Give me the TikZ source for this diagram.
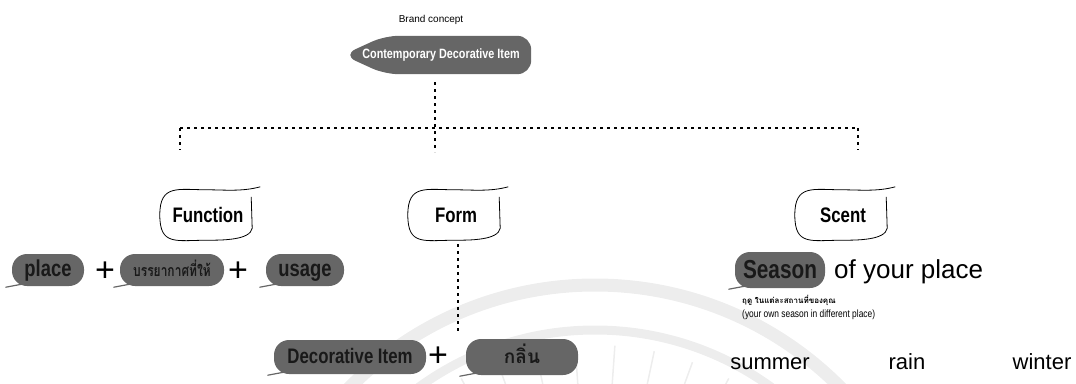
\documentclass[tikz,border=0pt]{standalone}
\usepackage{fontspec}
\setmainfont{Liberation Sans}
\newfontfamily\narrowf[FakeStretch=0.8]{Liberation Sans}
\newfontfamily\thaif[Script=Thai]{Loma}
\newfontfamily\thain[Script=Thai,FakeStretch=0.75]{Loma}
\usetikzlibrary{shapes.geometric,backgrounds}
\definecolor{blobgray}{gray}{0.40}
\definecolor{wmgray}{gray}{0.93}
\newcommand\bubbleline[1]{%
  \draw[line width=0.8pt]
    ([xshift=-5pt,yshift=-7pt]#1.north east) -- ([xshift=-4pt,yshift=12pt]#1.south east)
    .. controls ([xshift=-6pt]#1.south east) and ([xshift=14pt]#1.south) .. (#1.south)
    .. controls ([xshift=-32pt]#1.south) and ([yshift=-6pt]#1.south west) .. (#1.west)
    .. controls ([yshift=6pt]#1.north west) and ([xshift=-30pt]#1.north) .. (#1.north)
    .. controls ([xshift=16pt]#1.north) and ([xshift=-14pt,yshift=-2pt]#1.north east) .. ([xshift=4pt,yshift=3pt]#1.north east);}
\newcommand\blobtail[1]{%
  \draw[blobgray, line width=1.2pt, line cap=round]
    ([xshift=10pt,yshift=2pt]#1.south west) .. controls ([xshift=2pt,yshift=0pt]#1.south west) .. ([xshift=-6pt,yshift=-1pt]#1.south west);}
\begin{document}
\begin{tikzpicture}[x=1pt,y=-1pt,
  bubble/.style={minimum width=96pt, minimum height=50pt, inner sep=0pt,
    font=\narrowf\bfseries\fontsize{21}{21}\selectfont},
  blob/.style={fill=blobgray, rounded corners=15pt, minimum height=32pt, inner sep=2pt,
    text height=15pt, text depth=3pt,
    text=black!90, font=\narrowf\bfseries\fontsize{23}{23}\selectfont},
  dots/.style={line width=2.8pt, dash pattern=on 2.8pt off 4.2pt},
  plus/.style={inner sep=0pt, font=\fontsize{34}{34}\selectfont},
  big/.style={inner sep=0pt, anchor=base, font=\fontsize{22}{22}\selectfont}]
\useasboundingbox (0,0) rectangle (1076,383);
% watermark
\begin{scope}[on background layer]
\clip (0,0) rectangle (1076,383);
\draw[wmgray, line width=13pt] (595,630) circle[radius=345pt];
\draw[wmgray, line width=9pt] (595,630) circle[radius=300pt];
\foreach \a in {62,70,...,118}
  \draw[wmgray, line width=1.5pt] (595,630) ++(\a:235pt) -- ++(\a:50pt);
\end{scope}
% title
\node[inner sep=0pt, font=\fontsize{10}{12}\selectfont] (brand) at (431,20) {Brand concept};
\node[inner sep=0pt, minimum width=168pt, minimum height=30pt,
  text=white, font=\narrowf\bfseries\fontsize{13.5}{13.5}\selectfont] (top) at (441,55) {Contemporary Decorative Item};
\begin{scope}[on background layer]
\fill[blobgray, rounded corners=14pt] ([xshift=-14pt]top.west) -- ([xshift=28pt,yshift=4pt]top.north west)
  -- ([xshift=6pt,yshift=4pt]top.north east) -- ([xshift=6pt,yshift=-4pt]top.south east)
  -- ([xshift=28pt,yshift=-4pt]top.south west) -- cycle;
\end{scope}
% bubbles
\node[bubble] (fn) at (208,215) {Function};
\node[bubble] (fm) at (456,215) {Form};
\node[bubble] (sc) at (843,215) {Scent};
\bubbleline{fn}\bubbleline{fm}\bubbleline{sc}
% dotted tree
\coordinate (t1) at (435,82);
\coordinate (j) at (435,128);
\coordinate (jl) at (180,128);
\coordinate (jr) at (858,128);
\coordinate (ml) at (435,152);
\coordinate (fl) at (180,150);
\coordinate (sl) at (858,150);
\coordinate (fb) at (458,332);
\draw[dots] (t1) -- (ml);
\draw[dots] (jl) -- (jr);
\draw[dots] (jl) -- (fl);
\draw[dots] (jr) -- (sl);
\draw[dots] ([xshift=2pt,yshift=-4pt]fm.south) -- (fb);
% function row
\node[blob, minimum width=72pt] (place) at (48,270) {place};
\node[plus] (p1) at (105,272) {+};
\node[blob, minimum width=104pt, font=\thain\bfseries\fontsize{16}{16}\selectfont] (thai1) at (172,270) {บรรยากาศที่ให้};
\node[plus] (p2) at (238,272) {+};
\node[blob, minimum width=78pt] (usage) at (305,270) {usage};
\blobtail{place}\blobtail{thai1}\blobtail{usage}
% form row
\node[blob, minimum width=152pt, minimum height=34pt, font=\narrowf\bfseries\fontsize{21}{21}\selectfont] (deco) at (350,357) {Decorative Item};
\node[plus] (p3) at (438,357) {+};
\node[blob, minimum width=112pt, minimum height=36pt, font=\thaif\bfseries\fontsize{19}{19}\selectfont] (klin) at (522,357) {กลิ่น};
\blobtail{deco}\blobtail{klin}
% scent
\node[blob, minimum width=90pt, minimum height=36pt, text height=17pt, text depth=1pt, font=\narrowf\bfseries\fontsize{26}{26}\selectfont] (season) at (780,270) {Season};
\blobtail{season}
\node[anchor=west, inner sep=0pt, font=\fontsize{26}{26}\selectfont] (ofplace) at (834,272) {of your place};
\node[anchor=west, inner sep=0pt, font=\thaif\bfseries\fontsize{8}{8}\selectfont] (thaismall) at (742,300) {ฤดู ในแต่ละสถานที่ของคุณ};
\node[anchor=west, inner sep=0pt, font=\narrowf\fontsize{10.5}{10.5}\selectfont] (ensmall) at (742,315) {(your own season in different place)};
\node[big] (summer) at (770,369) {summer};
\node[big] (rain) at (907,369) {rain};
\node[big] (winter) at (1042,369) {winter};
\end{tikzpicture}
\end{document}
